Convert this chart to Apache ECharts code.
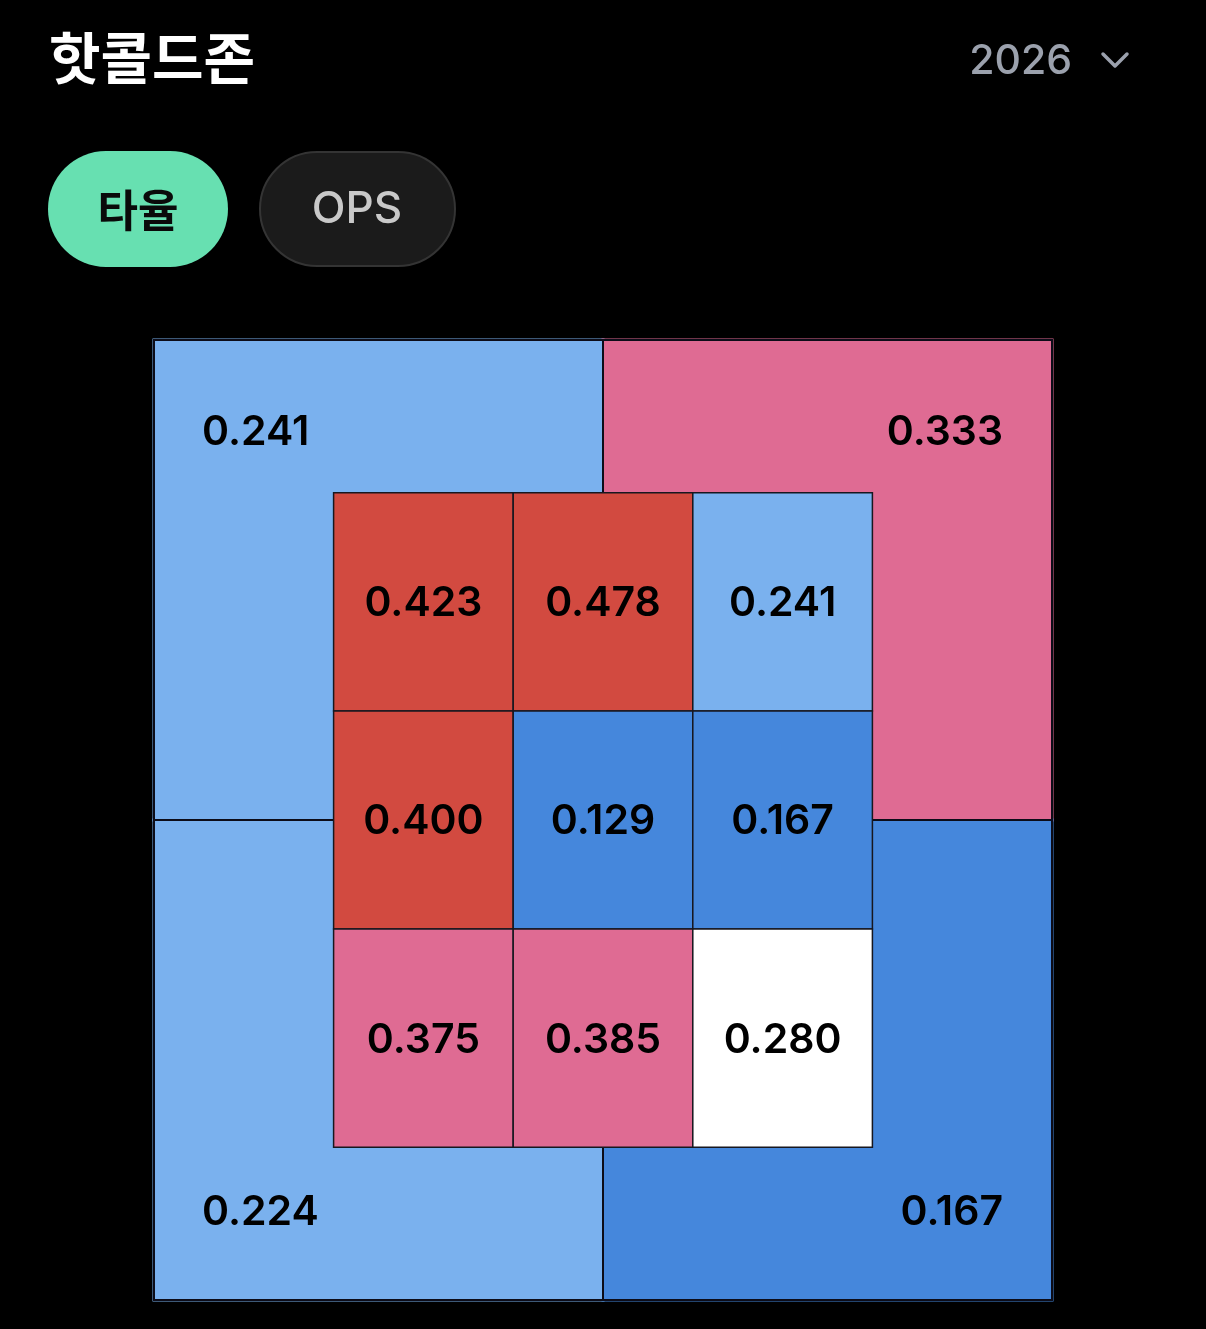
<!DOCTYPE html>
<html>
<head>
<meta charset="utf-8">
<style>
  html, body { margin: 0; padding: 0; background: #000; }
  #chart { width: 1206px; height: 1329px; }
</style>
<script src="https://cdn.jsdelivr.net/npm/echarts@6/dist/echarts.min.js"></script>
</head>
<body>
<div id="chart"></div>
<script>
// ---- data ----
const titleText = '핫콜드존';
const seasonLabel = '2026';
const tabLabels = ['타율', 'OPS'];
// outer zones: top-left, top-right, bottom-left, bottom-right
const outerZones = ['TL', 'TR', 'BL', 'BR'];
const outerValues = [0.241, 0.333, 0.224, 0.167];
// inner 3x3 strike zone, rows top -> bottom, columns left -> right
const innerRow1 = [0.423, 0.478, 0.241];
const innerRow2 = [0.400, 0.129, 0.167];
const innerRow3 = [0.375, 0.385, 0.280];
const innerRows = [innerRow1, innerRow2, innerRow3];

// ---- styling ----
function colorOf(v) {
  if (v >= 0.4) return '#d24a40';
  if (v >= 0.3) return '#df6b93';
  if (v >= 0.25) return '#ffffff';
  if (v >= 0.2) return '#7ab1ee';
  return '#4587dc';
}
const NUM_FONT = { fontFamily: 'Inter', fontWeight: 600, fontSize: 41 };

const outerData = outerZones.map((z, i) => [i, outerValues[i]]);
const innerData = [];
innerRows.forEach((row, r) => row.forEach((v, c) => innerData.push([c, r, v])));

function quadBounds(i) {
  const left = (i % 2 === 0);
  const top = (i < 2);
  return {
    x0: left ? -2.5 : 0, x1: left ? 0 : 2.5,
    y0: top ? 2.2 : 0, y1: top ? 0 : -2.2,
    left, top
  };
}

const chart = echarts.init(document.getElementById('chart'));
chart.setOption({
  backgroundColor: '#000',
  animation: false,
  grid: { left: 154, right: 154, top: 340, bottom: 29 },
  xAxis: { type: 'value', min: -2.5, max: 2.5, show: false },
  yAxis: { type: 'value', min: -2.2, max: 2.2, show: false },
  graphic: [
    { type: 'text', x: 49, y: 58, style: { text: titleText, fill: '#ffffff', fontFamily: 'Noto Sans CJK KR', fontWeight: 'bold', fontSize: 56, verticalAlign: 'middle' } },
    { type: 'text', x: 1072, y: 62, style: { text: seasonLabel, fill: '#9ba1ad', fontFamily: 'Inter', fontWeight: 500, fontSize: 41, align: 'right', verticalAlign: 'middle' } },
    { type: 'polyline', shape: { points: [[1103, 54], [1115, 66], [1127, 54]] }, style: { stroke: '#9ba1ad', lineWidth: 3.5, fill: null, lineCap: 'round', lineJoin: 'round' } },
    { type: 'rect', shape: { x: 48, y: 151, width: 180, height: 116, r: 58 }, style: { fill: '#67e0b1' } },
    { type: 'text', x: 138, y: 210, style: { text: tabLabels[0], fill: '#0a0a0a', fontFamily: 'Noto Sans CJK KR', fontWeight: 'bold', fontSize: 44, align: 'center', verticalAlign: 'middle' } },
    { type: 'rect', shape: { x: 260, y: 152, width: 195, height: 114, r: 57 }, style: { fill: '#1b1b1b', stroke: '#343434', lineWidth: 2 } },
    { type: 'text', x: 357, y: 210, style: { text: tabLabels[1], fill: '#c9c9c9', fontFamily: 'Inter', fontWeight: 500, fontSize: 44, align: 'center', verticalAlign: 'middle' } }
  ],
  series: [
    {
      // thin colored halo around outer zones
      type: 'custom', silent: true, data: outerData,
      renderItem: function (params, api) {
        const b = quadBounds(api.value(0));
        const p0 = api.coord([b.x0, b.y0]);
        const p1 = api.coord([b.x1, b.y1]);
        return {
          type: 'rect',
          shape: { x: p0[0] - 1.5, y: p0[1] - 1.5, width: p1[0] - p0[0] + 3, height: p1[1] - p0[1] + 3 },
          style: { fill: colorOf(api.value(1)) }
        };
      }
    },
    {
      type: 'custom', silent: true, data: outerData,
      renderItem: function (params, api) {
        const b = quadBounds(api.value(0));
        const v = api.value(1);
        const p0 = api.coord([b.x0, b.y0]);
        const p1 = api.coord([b.x1, b.y1]);
        const tx = b.left ? p0[0] + 48 : p1[0] - 49;
        const ty = b.top ? p0[1] + 93 : p1[1] - 87;
        return {
          type: 'group',
          children: [
            { type: 'rect', shape: { x: p0[0], y: p0[1], width: p1[0] - p0[0], height: p1[1] - p0[1] },
              style: { fill: colorOf(v), stroke: '#0c0c18', lineWidth: 2 } },
            { type: 'text', x: tx, y: ty,
              style: Object.assign({ text: v.toFixed(3), fill: '#000', align: b.left ? 'left' : 'right', verticalAlign: 'middle' }, NUM_FONT) }
          ]
        };
      }
    },
    {
      type: 'custom', silent: true, data: innerData,
      renderItem: function (params, api) {
        const c = api.value(0), r = api.value(1), v = api.value(2);
        const p0 = api.coord([c - 1.5, 1.5 - r]);
        const p1 = api.coord([c - 0.5, 0.5 - r]);
        return {
          type: 'group',
          children: [
            { type: 'rect', shape: { x: p0[0], y: p0[1], width: p1[0] - p0[0], height: p1[1] - p0[1] },
              style: { fill: colorOf(v), stroke: '#17171f', lineWidth: 1.5 } },
            { type: 'text', x: (p0[0] + p1[0]) / 2, y: (p0[1] + p1[1]) / 2 + 2,
              style: Object.assign({ text: v.toFixed(3), fill: '#000', align: 'center', verticalAlign: 'middle' }, NUM_FONT) }
          ]
        };
      }
    }
  ]
});
</script>
</body>
</html>
